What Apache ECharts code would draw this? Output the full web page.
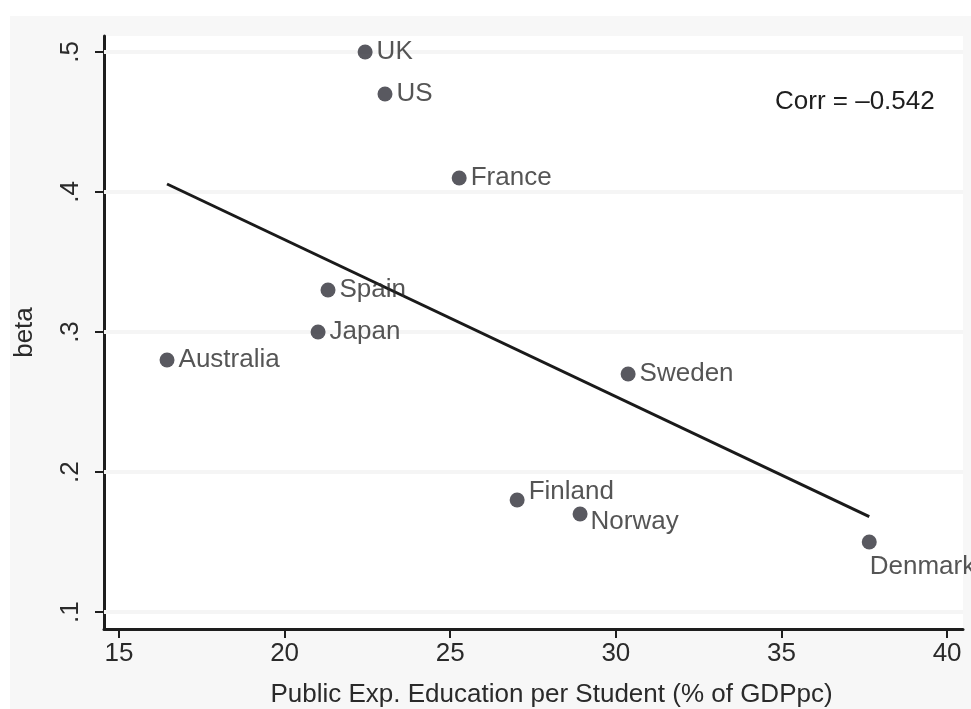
<!DOCTYPE html>
<html lang="en">
<head>
    <meta charset="UTF-8">
    <title>beta vs public education expenditure</title>
    <script src="https://cdn.jsdelivr.net/npm/echarts@6/dist/echarts.min.js"></script>
    <style>
        body { margin: 0; background: #fff; }
        #chart { position: absolute; left: 10px; top: 16px; width: 961px; height: 693px; background: #f7f7f7; }
    </style>
</head>
<body>
    <div id="chart"></div>
    <script>
        // data
        const countries = ['UK', 'US', 'France', 'Spain', 'Japan', 'Australia', 'Sweden', 'Finland', 'Norway', 'Denmark'];
        const pubExp = [22.43, 23.03, 25.27, 21.31, 21.01, 16.45, 30.37, 27.02, 28.92, 37.65];
        const beta = [0.50, 0.47, 0.41, 0.33, 0.30, 0.28, 0.27, 0.18, 0.17, 0.15];
        const xTicks = [15, 20, 25, 30, 35, 40];
        const yTicks = [0.1, 0.2, 0.3, 0.4, 0.5];

        // label offsets (style, not data)
        const labelPos = {
            Finland: [19, -1],
            Norway: [18, 15],
            Denmark: [8, 32]
        };

        // OLS fit line over the data range
        function fitLine(xs, ys) {
            let n = xs.length;
            let mx = xs.reduce((a, b) => a + b, 0) / n;
            let my = ys.reduce((a, b) => a + b, 0) / n;
            let sxy = 0, sxx = 0;
            for (let i = 0; i < n; i++) {
                sxy += (xs[i] - mx) * (ys[i] - my);
                sxx += (xs[i] - mx) * (xs[i] - mx);
            }
            let b = sxy / sxx;
            let x0 = Math.min(...xs), x1 = Math.max(...xs);
            return [[x0, my + b * (x0 - mx)], [x1, my + b * (x1 - mx)]];
        }

        let font = 'Liberation Sans, Arial, Helvetica, sans-serif';
        let textColor = '#2a2a2a';
        let fontSize = 26;

        let points = countries.map((c, i) => {
            let item = { name: c, value: [pubExp[i], beta[i]] };
            if (labelPos[c]) {
                item.label = { position: labelPos[c], align: 'left', verticalAlign: 'middle' };
            }
            return item;
        });

        let myChart = echarts.init(document.getElementById('chart'));
        let option = {
            animation: false,
            grid: {
                left: 94, top: 20, right: 8, bottom: 80,
                outerBoundsMode: 'none',
                containLabel: false,
                show: true, backgroundColor: '#fff', borderWidth: 0
            },
            xAxis: {
                type: 'value',
                min: 14.547, max: 40.48,
                name: 'Public Exp. Education per Student (% of GDPpc)',
                nameLocation: 'middle',
                nameGap: 53,
                nameTextStyle: { fontFamily: font, fontSize: fontSize, color: textColor, padding: [0, 0, 0, 36] },
                axisLine: { show: true, onZero: false, lineStyle: { color: '#1e1e1e', width: 3 } },
                axisTick: { show: true, length: 9, customValues: xTicks, lineStyle: { color: '#1e1e1e', width: 2 } },
                axisLabel: { customValues: xTicks, margin: 12, fontFamily: font, fontSize: fontSize, color: textColor },
                splitLine: { show: false }
            },
            yAxis: {
                type: 'value',
                min: 0.0879, max: 0.5114,
                name: 'beta',
                nameLocation: 'middle',
                nameGap: 66,
                nameRotate: 90,
                nameTextStyle: { fontFamily: font, fontSize: fontSize, color: textColor },
                axisLine: { show: true, onZero: false, lineStyle: { color: '#1e1e1e', width: 3 } },
                axisTick: { show: true, length: 9, customValues: yTicks, lineStyle: { color: '#1e1e1e', width: 2 } },
                axisLabel: {
                    customValues: yTicks, rotate: 90, margin: 20,
                    fontFamily: font, fontSize: fontSize, color: textColor,
                    formatter: v => String(Math.round(v * 10) / 10).replace(/^0/, '')
                },
                splitLine: { show: false }
            },
            graphic: [{
                type: 'text',
                left: 765, top: 73,
                style: { text: 'Corr = \u20130.542', font: fontSize + 'px ' + font, fill: '#1e1e1e' }
            }],
            series: [
                {
                    // faint horizontal gridlines
                    type: 'line',
                    data: [],
                    z: 1,
                    markLine: {
                        silent: true,
                        z: 1,
                        symbol: 'none',
                        label: { show: false },
                        lineStyle: { color: '#f5f5f5', width: 4, type: 'solid' },
                        data: yTicks.map(v => ({ yAxis: v }))
                    }
                },
                {
                    type: 'line',
                    data: fitLine(pubExp, beta),
                    symbol: 'none',
                    lineStyle: { color: '#1a1a1a', width: 3 },
                    z: 3
                },
                {
                    type: 'scatter',
                    data: points,
                    symbolSize: 15,
                    itemStyle: { color: '#303038' },
                    label: {
                        show: true,
                        position: 'right',
                        distance: 4,
                        formatter: '{b}',
                        fontFamily: font,
                        fontSize: fontSize,
                        color: textColor
                    },
                    z: 4
                }
            ]
        };
        myChart.setOption(option);
    </script>
</body>
</html>
